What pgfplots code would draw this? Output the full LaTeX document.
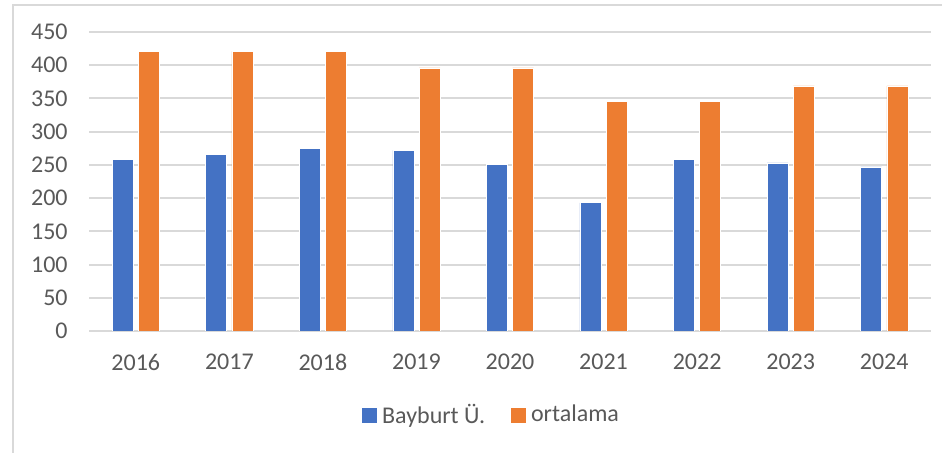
\documentclass[border=0pt]{standalone}
\usepackage{fontspec}
\setmainfont{Carlito}
\usepackage{pgfplots}
\pgfplotsset{compat=1.18}
\definecolor{bblue}{HTML}{4472C4}
\definecolor{borange}{HTML}{ED7D31}
\definecolor{gridc}{HTML}{D9D9D9}
\definecolor{txt}{HTML}{595959}
\begin{document}
\begin{tikzpicture}
\useasboundingbox (0,0) rectangle (471pt,226.5pt);
\draw[gridc, line width=0.9pt] (6.5pt,0) -- (6.5pt,224pt) -- (471pt,224pt);
\begin{axis}[
  at={(44.5pt,61pt)}, anchor=south west,
  scale only axis, width=421pt, height=149.5pt,
  xmin=-0.5, xmax=8.5, ymin=0, ymax=450,
  enlargelimits=false,
  ybar=2.6pt, bar width=10.5pt,
  xtick={0,...,8},
  xticklabels={2016,2017,2018,2019,2020,2021,2022,2023,2024},
  ytick={0,50,...,450},
  ymajorgrids, grid style={gridc, line width=1pt},
  axis line style={draw=none},
  major tick length=0pt,
  /pgf/number format/assume math mode=true,
  tick label style={font=\fontsize{12}{14}\selectfont, text=txt},
  xticklabel style={anchor=north, inner sep=0pt, yshift=-11.5pt},
  yticklabel style={anchor=east, inner sep=0pt, xshift=-10.5pt},
  legend columns=2,
  legend style={at={(0.4768,-0.281)}, anchor=center, draw=none, fill=none,
    font=\fontsize{12}{14}\selectfont, text=txt, inner sep=0pt,
    nodes={inner sep=0pt}, column sep=2.8pt,
    /tikz/every even column/.append style={column sep=12.8pt}},
]
\addplot[fill=bblue, draw=white, line width=0.3pt,
  legend image code/.code={\fill[bblue] (0pt,-3.5pt) rectangle (7pt,3.5pt);}]
  coordinates {(0,258) (1,266) (2,275) (3,272) (4,251) (5,193) (6,258) (7,253) (8,247)};
\addplot[fill=borange, draw=white, line width=0.3pt,
  legend image code/.code={\fill[borange] (0pt,-3.5pt) rectangle (7pt,3.5pt);}]
  coordinates {(0,421) (1,421) (2,421) (3,396) (4,396) (5,346) (6,346) (7,369) (8,369)};
\legend{Bayburt Ü.,ortalama}
\end{axis}
\end{tikzpicture}
\end{document}
